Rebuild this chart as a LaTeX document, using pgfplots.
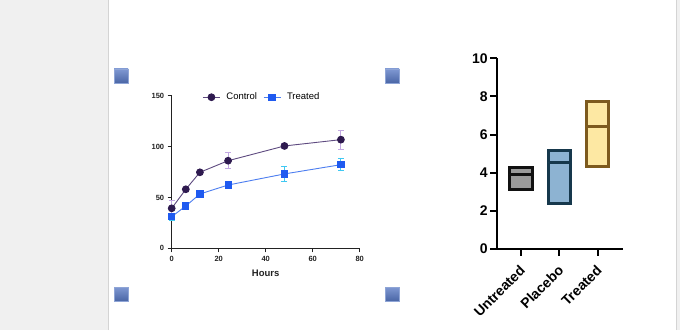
\documentclass[border=0pt]{standalone}
\usepackage{pgfplots}
\pgfplotsset{compat=1.18}
\usepgfplotslibrary{statistics}
\usepackage{fontspec}
\setmainfont{Liberation Sans}
\setsansfont{Liberation Sans}
\definecolor{strip}{HTML}{F0F0F0}
\definecolor{stripline}{HTML}{D4D4D4}
\definecolor{handletop}{HTML}{7F98D2}
\definecolor{handlebot}{HTML}{4A66A6}
\definecolor{handleb}{HTML}{8FA5D6}
\definecolor{ctrlmark}{HTML}{2E1A4F}
\definecolor{ctrlline}{HTML}{5E4A80}
\definecolor{ctrlerr}{HTML}{C2A8E2}
\definecolor{trtmark}{HTML}{1F5AF0}
\definecolor{trtline}{HTML}{4D7EF0}
\definecolor{trterr}{HTML}{3FC8F2}
\definecolor{untfill}{HTML}{9A9A9A}
\definecolor{untdraw}{HTML}{111111}
\definecolor{plafill}{HTML}{8DB3D2}
\definecolor{pladraw}{HTML}{16384C}
\definecolor{trefill}{HTML}{FDE8A3}
\definecolor{tredraw}{HTML}{7D5A1E}
\definecolor{axisgray}{HTML}{222222}
\begin{document}
\begin{tikzpicture}
\useasboundingbox (0pt,0pt) rectangle (680pt,330pt);
\fill[white] (0pt,0pt) rectangle (680pt,330pt);
\fill[strip] (0pt,0pt) rectangle (108pt,330pt);
\draw[stripline, line width=1.5pt] (108.5pt,0pt) -- (108.5pt,330pt);
\fill[strip] (676pt,0pt) rectangle (680pt,330pt);
\draw[stripline, line width=1pt] (676.5pt,0pt) -- (676.5pt,330pt);
% selection handles
\foreach \hx/\hy in {121/254, 392/254, 121/36, 392/36}{
  \shade[top color=handletop, bottom color=handlebot, draw=handleb, line width=0.8pt] (\hx pt-7pt,\hy pt-7pt) rectangle (\hx pt+7pt,\hy pt+7pt);
}
% ---------- left chart ----------
\begin{axis}[
  at={(171.7pt,81.7pt)}, anchor=south west,
  scale only axis, width=188pt, height=152.6pt,
  xmin=0, xmax=80, ymin=0, ymax=150,
  axis x line*=bottom, axis y line*=left,
  axis line style={axisgray, line width=0.9pt},
  xtick={0,20,40,60,80}, ytick={0,50,100,150},
  tick align=outside, major tick length=4pt,
  tick style={axisgray, line width=0.9pt},
  /pgf/number format/assume math mode=true,
  ticklabel style={font=\bfseries\fontsize{7.5}{8}\selectfont, text=axisgray},
  xticklabel style={yshift=-0.5pt},
  xlabel={Hours},
  xlabel style={font=\bfseries\fontsize{9.5}{11}\selectfont, text=axisgray, yshift=-1pt},
  legend style={draw=none, fill=none, at={(0.48,0.99)}, anchor=center,
    font=\fontsize{9.5}{11}\selectfont, column sep=4pt, inner sep=1pt},
  legend columns=2,
  clip=false,
]
\addplot[ctrlline, line width=0.9pt, mark=*, mark size=3.4pt,
  mark options={fill=ctrlmark, draw=ctrlmark},
  error bars/.cd, y dir=both, y explicit,
  error bar style={ctrlerr, line width=0.9pt},
  error mark options={rotate=90, mark size=3pt, ctrlerr, line width=0.9pt}]
coordinates {
 (0,39.3) +- (0,8)
 (6,58) +- (0,2)
 (12,74.7) +- (0,2)
 (24,86.1) +- (0,7.8)
 (48,100.6) +- (0,2)
 (72,106.8) +- (0,9.5)
};
\addlegendentry{Control}
\addplot[trtline, line width=0.9pt, mark=square*, mark size=3.1pt,
  mark options={fill=trtmark, draw=trtmark},
  error bars/.cd, y dir=both, y explicit,
  error bar style={trterr, line width=0.9pt},
  error mark options={rotate=90, mark size=3pt, trterr, line width=0.9pt}]
coordinates {
 (0,31.1) +- (0,3.5)
 (6,41.6) +- (0,2)
 (12,53.4) +- (0,2)
 (24,62.2) +- (0,2)
 (48,73.1) +- (0,7.3)
 (72,82.2) +- (0,6.1)
};
\addlegendentry{Treated}
\end{axis}
% ---------- right chart ----------
\begin{axis}[
  at={(496.7pt,81pt)}, anchor=south west,
  scale only axis, width=126.6pt, height=190.7pt,
  xmin=-0.634, xmax=2.67, ymin=0, ymax=10,
  axis x line*=bottom, axis y line*=left,
  axis line style={black, line width=2pt},
  xtick={0,1,2}, xticklabels={Untreated,Placebo,Treated},
  ytick={0,2,4,6,8,10},
  tick align=outside, major tick length=6.5pt,
  tick style={black, line width=2pt},
  /pgf/number format/assume math mode=true,
  ticklabel style={font=\bfseries\fontsize{14}{16}\selectfont},
  yticklabel style={xshift=1pt},
  xticklabel style={anchor=east, xshift=4pt, yshift=-10pt, rotate=45},
  boxplot/draw direction=y,
  boxplot/every boxplot/.style={line width=3pt},
  boxplot/every box/.style={draw, fill, line width=3pt},
  boxplot/every median/.style={line width=3pt},
  clip=false,
]
\addplot[draw=untdraw, fill=untfill, line width=3pt,
  boxplot prepared={draw position=0, lower whisker=3.13, lower quartile=3.13,
    median=3.92, upper quartile=4.25, upper whisker=4.25,
    box extend=0.59, whisker extend=0}] coordinates {};
\addplot[draw=pladraw, fill=plafill, line width=3pt,
  boxplot prepared={draw position=1, lower whisker=2.41, lower quartile=2.41,
    median=4.55, upper quartile=5.14, upper whisker=5.14,
    box extend=0.56, whisker extend=0}] coordinates {};
\addplot[draw=tredraw, fill=trefill, line width=3pt,
  boxplot prepared={draw position=2, lower whisker=4.32, lower quartile=4.32,
    median=6.4, upper quartile=7.71, upper whisker=7.71,
    box extend=0.58, whisker extend=0}] coordinates {};
\end{axis}
\end{tikzpicture}
\end{document}
